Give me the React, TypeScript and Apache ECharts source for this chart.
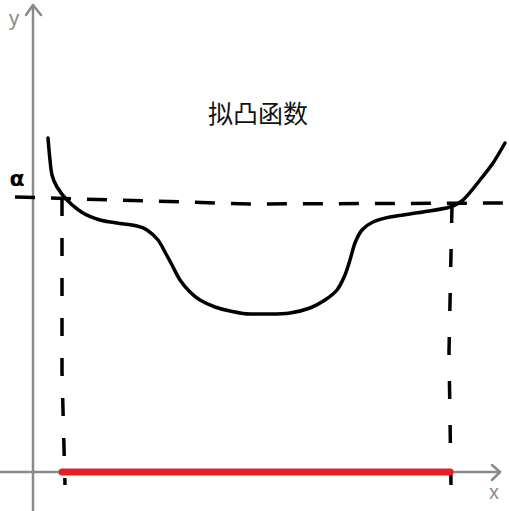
import React, { useEffect, useRef } from "react";
import * as echarts from "echarts";

// Coordinates in a math frame whose origin is where the axes cross.
const curveX = [15, 17, 19, 24, 34, 50, 67, 84, 104, 114, 125, 132, 139, 147, 157, 167, 182, 197, 217, 237, 257, 277, 292, 304, 312, 317, 322, 329, 340, 357, 390, 417, 430, 447, 460, 472];
const curveY = [334, 312, 297, 285, 272, 259, 252, 249, 246, 242, 232, 220, 207, 192, 180, 172, 165, 161, 158, 158, 159, 164, 172, 182, 197, 212, 229, 242, 250, 255, 260, 265, 272, 292, 309, 329];

const levelX = [-18, 117, 217, 476];
const levelY = [275, 271, 268, 269];

const leftDropX = [29, 29, 32];
const leftDropY = [274, 100, -13];
const rightDropX = [419, 416, 418];
const rightDropY = [267, 120, -13];

const intervalX = [29, 417];
const intervalY = [0, 0];

const xAxisX = [-33, 467];
const xAxisY = [0, 0];
const yAxisX = [0, 0];
const yAxisY = [-39, 467];
const xArrowX = [459, 467, 459];
const xArrowY = [7, 0, -8];
const yArrowX = [-7, 0, 8];
const yArrowY = [457, 467, 457];

const titleText = "拟凸函数";
const levelLabel = "α";

const zip = (xs: number[], ys: number[]) => xs.map((x, i) => [x, ys[i]]);

export default function App() {
  const ref = useRef<HTMLDivElement>(null);
  useEffect(() => {
    if (!ref.current) return;
    const chart = echarts.init(ref.current, null, { renderer: "svg" });
    const gray = "#8a8a8a";
    const line = (data: number[][], color: string, width: number, extra: any = {}) => ({
      type: "line",
      data,
      symbol: "none",
      clip: false,
      silent: true,
      lineStyle: { color, width, cap: "round", join: "round", ...extra },
    });
    chart.setOption({
      animation: false,
      backgroundColor: "#ffffff",
      grid: { left: 0, right: 0, top: 0, bottom: 0 },
      xAxis: { type: "value", min: -33, max: 476, show: false },
      yAxis: { type: "value", min: -39, max: 472, show: false },
      series: [
        line(zip(xAxisX, xAxisY), gray, 2.5),
        line(zip(yAxisX, yAxisY), gray, 2.5),
        line(zip(xArrowX, xArrowY), gray, 2.5),
        line(zip(yArrowX, yArrowY), gray, 2.5),
        line(zip(levelX, levelY), "#000", 3.5, { type: [20, 16], cap: "butt" }),
        line(zip(leftDropX, leftDropY), "#000", 3.5, { type: [18, 22], cap: "butt" }),
        line(zip(rightDropX, rightDropY), "#000", 3.5, { type: [18, 26], cap: "butt" }),
        line(zip(intervalX, intervalY), "#e81e25", 7, { cap: "round" }),
        { ...line(zip(curveX, curveY), "#000", 3.5), smooth: 0.3 },
      ],
      graphic: [
        {
          type: "text",
          x: 258,
          y: 112,
          style: {
            text: titleText,
            fontSize: 25,
            fontFamily: "Noto Sans CJK SC",
            fill: "#111",
            align: "center",
            verticalAlign: "middle",
          },
        },
        {
          type: "text",
          x: 14,
          y: 17,
          style: { text: "y", fontSize: 20, fontFamily: "Noto Sans", fill: gray, align: "center", verticalAlign: "middle" },
        },
        {
          type: "text",
          x: 494,
          y: 492,
          style: { text: "x", fontSize: 19, fontFamily: "Noto Sans", fill: gray, align: "center", verticalAlign: "middle" },
        },
        {
          type: "text",
          x: 17,
          y: 178,
          style: { text: levelLabel, fontSize: 22, fontWeight: "bold", fontFamily: "DejaVu Sans", fill: "#000", align: "center", verticalAlign: "middle" },
        },
      ],
    });
    return () => chart.dispose();
  }, []);
  return <div ref={ref} style={{ position: "fixed", left: 0, top: 0, width: 509, height: 511 }} />;
}
